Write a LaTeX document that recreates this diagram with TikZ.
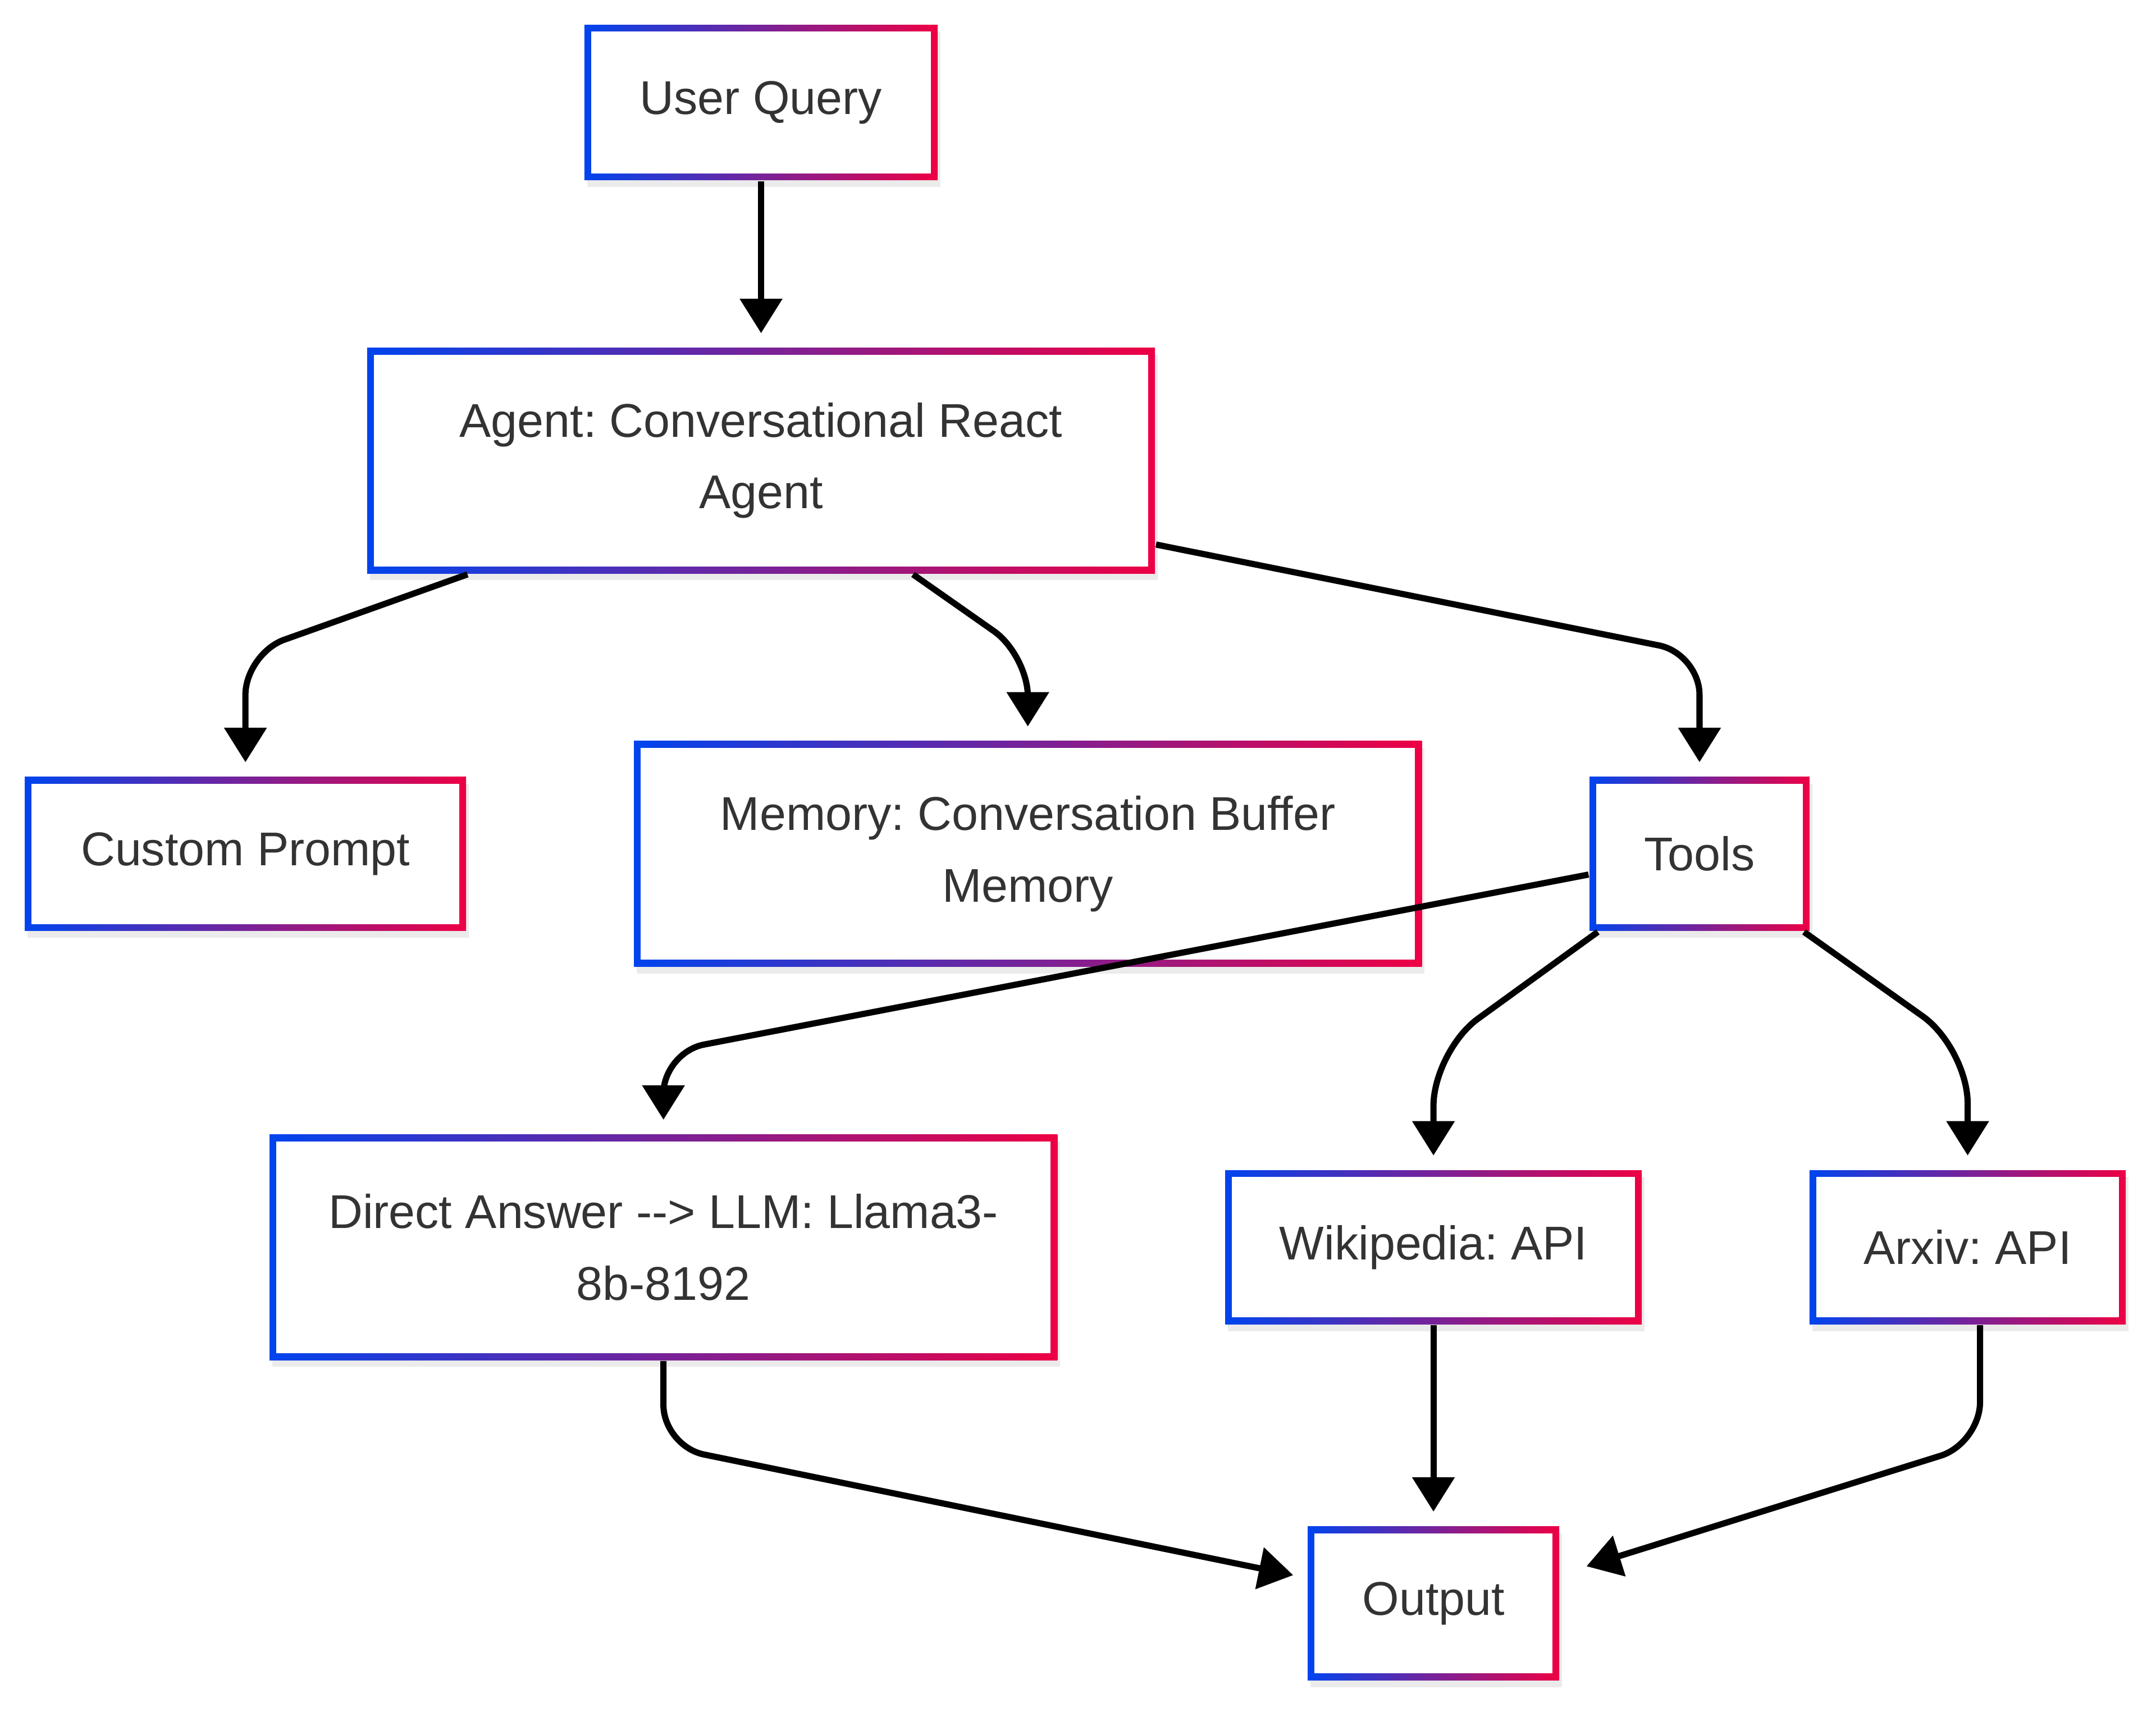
\documentclass[tikz,border=0pt]{standalone}
\usepackage{fontspec}
\setmainfont{Liberation Sans}
\frenchspacing
\usepackage{tikz}
\usetikzlibrary{arrows.meta,shadows}
\definecolor{gblue}{RGB}{0,68,238}
\definecolor{gred}{RGB}{238,0,68}
\definecolor{txtgray}{RGB}{51,51,51}

\tikzset{
  gbox/.style={rectangle, left color=gblue, right color=gred, text=txtgray,
    align=center, inner sep=0pt, font=\fontsize{9.8}{14.8}\selectfont,
    drop shadow={fill=black, opacity=0.08, shadow xshift=0.02cm, shadow yshift=-0.05cm},
    path picture={\fill[white]
      ([shift={(0.05cm,0.05cm)}]path picture bounding box.south west) rectangle
      ([shift={(-0.05cm,-0.05cm)}]path picture bounding box.north east);}},
  link/.style={line width=0.045cm, rounded corners=0.3cm,
    -{Triangle[length=0.25cm,width=0.3cm]}, shorten >=0.1cm}
}

\begin{document}
\begin{tikzpicture}
\useasboundingbox (0,0) rectangle (15.68,-12.45);
% boxes
\node[gbox, minimum width=2.57cm, minimum height=1.13cm] (query) at (5.535,-0.745) {User Query};
\node[gbox, minimum width=5.73cm, minimum height=1.64cm] (agent) at (5.535,-3.35) {Agent: Conversational React\\Agent};
\node[gbox, minimum width=3.21cm, minimum height=1.12cm] (prompt) at (1.785,-6.21) {Custom Prompt};
\node[gbox, minimum width=5.73cm, minimum height=1.64cm] (memory) at (7.475,-6.21) {Memory: Conversation Buffer\\Memory};
\node[gbox, minimum width=1.60cm, minimum height=1.12cm] (tools) at (12.36,-6.21) {Tools};
\node[gbox, minimum width=5.73cm, minimum height=1.64cm] (direct) at (4.825,-9.07) {Direct Answer -{}-{}> LLM: Llama3-\\8b-8192};
\node[gbox, minimum width=3.03cm, minimum height=1.12cm] (wiki) at (10.425,-9.07) {Wikipedia: API};
\node[gbox, minimum width=2.30cm, minimum height=1.12cm] (arxiv) at (14.31,-9.07) {Arxiv: API};
\node[gbox, minimum width=1.83cm, minimum height=1.12cm] (output) at (10.425,-11.66) {Output};

% connectors
\draw[link] (query) -- (agent);
\draw[link] ([xshift=-2.135cm]agent.south) -- ([yshift=0.89cm]prompt.north) -- (prompt.north);
\draw[link] ([xshift=1.105cm]agent.south) -- ([yshift=0.62cm]memory.north) -- (memory.north);
\draw[link] ([yshift=-0.61cm]agent.east) -- ([yshift=0.89cm]tools.north) -- (tools.north);
\draw[link] ([yshift=-0.15cm]tools.west) -- ([yshift=0.59cm]direct.north) -- (direct.north);
\draw[link, rounded corners=0.4cm] ([xshift=-0.74cm]tools.south) -- ([yshift=0.86cm]wiki.north) -- (wiki.north);
\draw[link, rounded corners=0.4cm] ([xshift=0.76cm]tools.south) -- ([yshift=0.88cm]arxiv.north) -- (arxiv.north);
\draw[link] (direct.south) -- ([yshift=-0.62cm]direct.south) -- ([yshift=0.185cm]output.west);
\draw[link] (wiki) -- (output);
\draw[link, shorten >=0.2cm] ([xshift=0.09cm]arxiv.south) -- ([xshift=0.09cm,yshift=-0.86cm]arxiv.south) -- ([yshift=0.21cm]output.east);
\end{tikzpicture}
\end{document}
